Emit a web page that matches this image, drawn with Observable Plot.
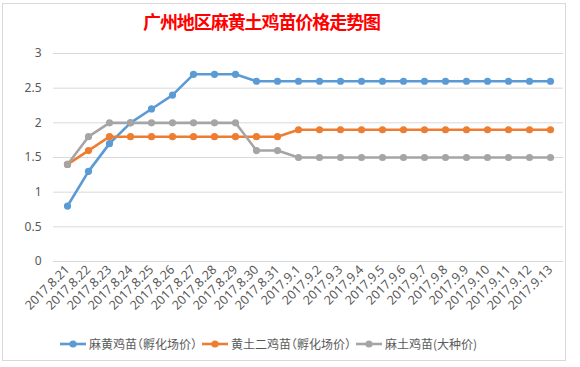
<!DOCTYPE html>
<html>
<head>
<meta charset="utf-8">
<script src="https://cdn.jsdelivr.net/npm/d3@7"></script>
<script src="https://cdn.jsdelivr.net/npm/@observablehq/plot@0.6"></script>
<style>
  html, body { margin: 0; padding: 0; background: #fff; }
  #wrap { position: relative; width: 580px; height: 367px; overflow: hidden; font-family: "Noto Sans CJK SC", "Noto Sans", sans-serif; }
  #frame { position: absolute; left: 2px; top: 3px; width: 564px; height: 358px; border: 1px solid #d9d9d9; box-sizing: border-box; }
  #title { position: absolute; left: 143px; top: 11px; color: #ff0000; font-size: 18px; font-weight: bold; white-space: nowrap; line-height: 1.2; }
  #chart { position: absolute; left: 0; top: 0; }
  #legend { position: absolute; left: 60px; top: 335px; display: flex; align-items: center; font-size: 12px; color: #595959; white-space: nowrap; font-feature-settings: "halt"; }
  #legend .item { display: flex; align-items: center; margin-right: 5px; }
  #legend svg { margin-right: 3px; }
</style>
</head>
<body>
<div id="wrap">
  <div id="frame"></div>
  <div id="chart"></div>
  <div id="title">广州地区麻黄土鸡苗价格走势图</div>
  <div id="legend"></div>
</div>
<script>
const dates = ["2017.8.21","2017.8.22","2017.8.23","2017.8.24","2017.8.25","2017.8.26","2017.8.27","2017.8.28","2017.8.29","2017.8.30","2017.8.31","2017.9.1","2017.9.2","2017.9.3","2017.9.4","2017.9.5","2017.9.6","2017.9.7","2017.9.8","2017.9.9","2017.9.10","2017.9.11","2017.9.12","2017.9.13"];
const seriesNames = ["麻黄鸡苗（孵化场价）","黄土二鸡苗（孵化场价）","麻土鸡苗(大种价)"];
const mahuang = [0.8,1.3,1.7,2.0,2.2,2.4,2.7,2.7,2.7,2.6,2.6,2.6,2.6,2.6,2.6,2.6,2.6,2.6,2.6,2.6,2.6,2.6,2.6,2.6];
const huangtu = [1.4,1.6,1.8,1.8,1.8,1.8,1.8,1.8,1.8,1.8,1.8,1.9,1.9,1.9,1.9,1.9,1.9,1.9,1.9,1.9,1.9,1.9,1.9,1.9];
const matu = [1.4,1.8,2.0,2.0,2.0,2.0,2.0,2.0,2.0,1.6,1.6,1.5,1.5,1.5,1.5,1.5,1.5,1.5,1.5,1.5,1.5,1.5,1.5,1.5];
const yTicks = [0,0.5,1,1.5,2,2.5,3];
const colors = ["#5b9bd5","#ed7d31","#a5a5a5"];

const allSeries = [mahuang, huangtu, matu];
const data = [];
allSeries.forEach((vals, si) => vals.forEach((v, i) => data.push({date: dates[i], value: v, series: seriesNames[si]})));

const chart = Plot.plot({
  width: 580,
  height: 330,
  marginTop: 53,
  marginBottom: 69,
  marginLeft: 53,
  marginRight: 17,
  style: { fontFamily: "'Noto Sans', 'Noto Sans CJK SC', sans-serif", fontSize: "12px", color: "#595959", background: "transparent" },
  x: { type: "point", domain: dates, padding: 0.5, label: null },
  y: { domain: [0, 3], ticks: yTicks, label: null },
  color: { domain: seriesNames, range: colors },
  marks: [
    Plot.gridY(yTicks, { stroke: "#d9d9d9", strokeOpacity: 1 }),
    Plot.axisY(yTicks, { tickSize: 0, tickPadding: 12, fill: "#595959", label: null, tickFormat: d => String(d) }),
    Plot.axisX({ tickSize: 0, tickRotate: -45, tickPadding: 6, fill: "#595959", label: null, fontSize: 12.5 }),
    Plot.lineY(data, { x: "date", y: "value", z: "series", stroke: "series", strokeWidth: 2.6 }),
    Plot.dot(data, { x: "date", y: "value", fill: "series", r: 3.6 })
  ]
});
document.getElementById("chart").appendChild(chart);

const legend = document.getElementById("legend");
seriesNames.forEach((name, i) => {
  const item = document.createElement("div");
  item.className = "item";
  item.innerHTML = `<svg width="26" height="10"><line x1="0" y1="5" x2="26" y2="5" stroke="${colors[i]}" stroke-width="2.6"/><circle cx="13" cy="5" r="3.6" fill="${colors[i]}"/></svg><span>${name}</span>`;
  legend.appendChild(item);
});

// fit title to the reference's span (about 237px wide)
const title = document.getElementById("title");
const w = title.getBoundingClientRect().width;
const n = title.textContent.length;
if (w > 0) title.style.letterSpacing = ((237 - w) / n) + "px";
</script>
</body>
</html>
